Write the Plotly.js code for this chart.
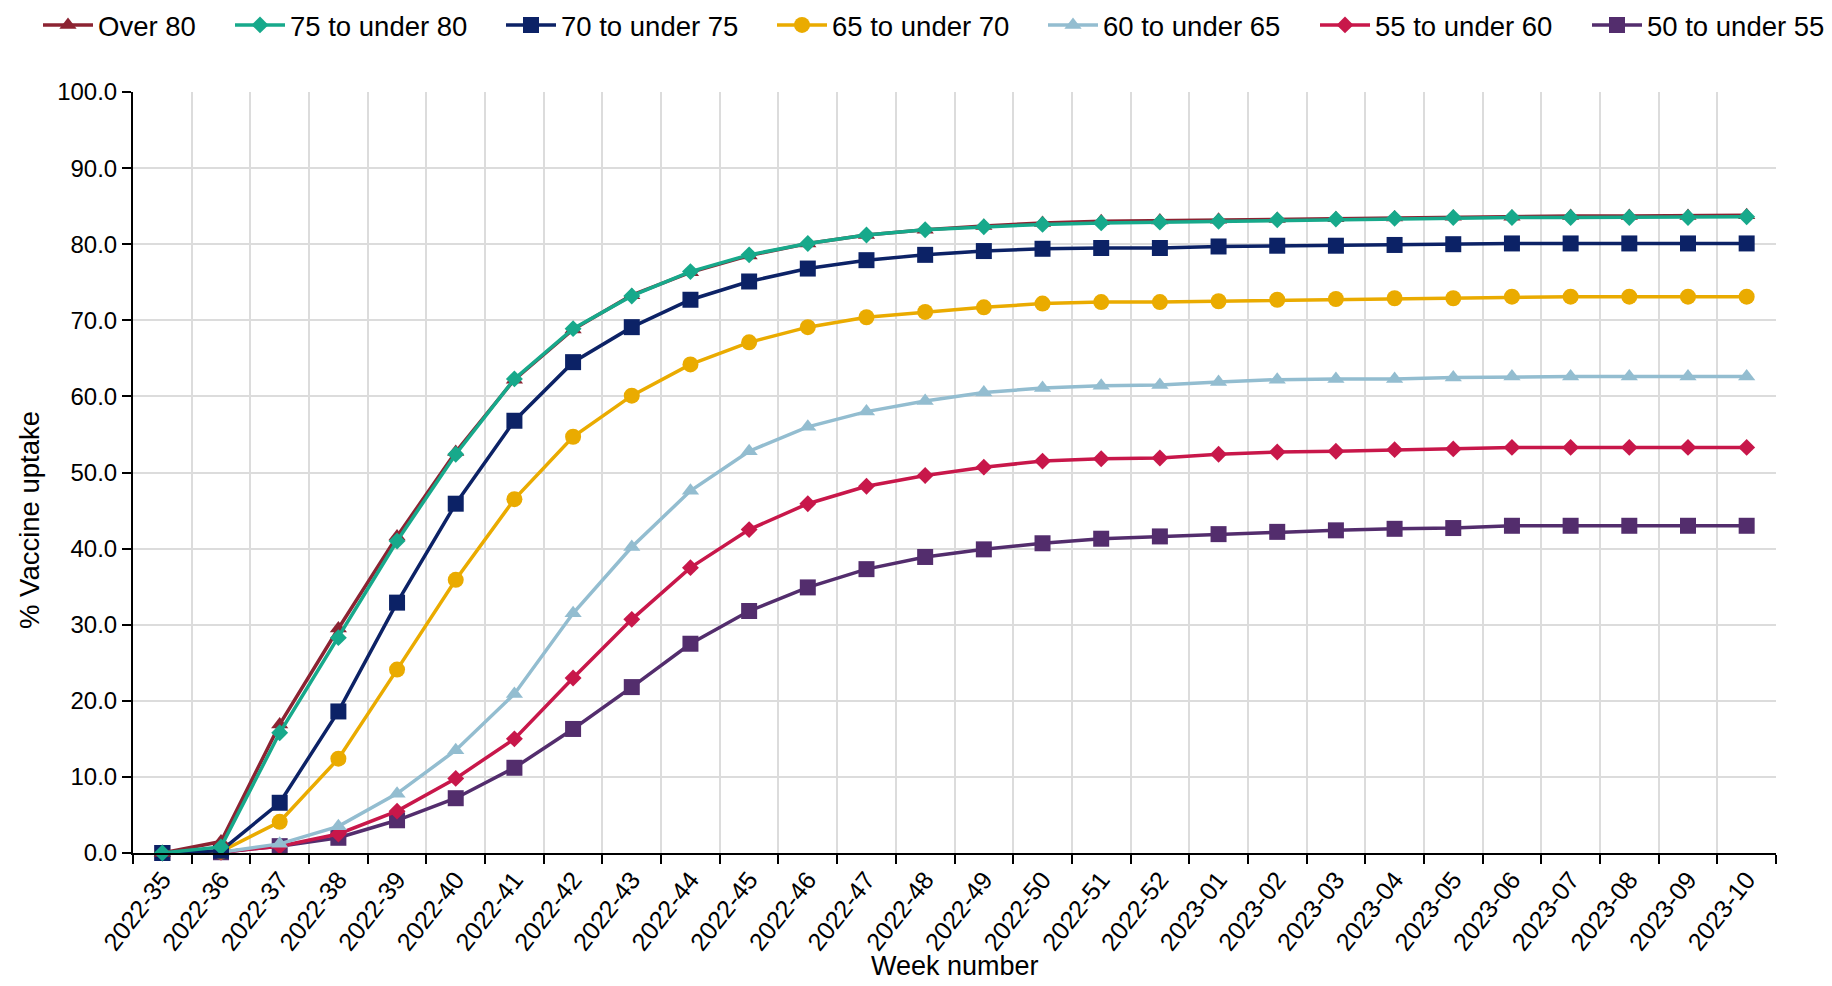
<!DOCTYPE html>
<html>
<head>
<meta charset="utf-8">
<script src="https://cdn.plot.ly/plotly-3.0.1.min.js"></script>
<style>
  html, body { margin: 0; padding: 0; background: #ffffff; }
  #chart { width: 1832px; height: 986px; }
</style>
</head>
<body>
<div id="chart"></div>
<script>
const weeks = ["2022-35","2022-36","2022-37","2022-38","2022-39","2022-40","2022-41","2022-42","2022-43","2022-44","2022-45","2022-46","2022-47","2022-48","2022-49","2022-50","2022-51","2022-52","2023-01","2023-02","2023-03","2023-04","2023-05","2023-06","2023-07","2023-08","2023-09","2023-10"];

const over80    = [0, 1.5, 16.9, 29.5, 41.6, 52.7, 62.2, 68.8, 73.3, 76.3, 78.5, 80.1, 81.2, 81.9, 82.4, 82.8, 83.0, 83.1, 83.2, 83.3, 83.4, 83.5, 83.6, 83.6, 83.7, 83.7, 83.7, 83.8];
const age75to80 = [0, 0.8, 15.8, 28.3, 41.0, 52.4, 62.3, 68.9, 73.2, 76.4, 78.6, 80.1, 81.2, 81.9, 82.3, 82.6, 82.8, 82.9, 83.0, 83.2, 83.3, 83.4, 83.5, 83.5, 83.5, 83.5, 83.5, 83.6];
const age70to75 = [0, 0.3, 6.6, 18.6, 32.9, 45.9, 56.8, 64.5, 69.1, 72.7, 75.1, 76.8, 77.9, 78.6, 79.1, 79.4, 79.5, 79.5, 79.7, 79.8, 79.8, 79.9, 80.0, 80.1, 80.1, 80.1, 80.1, 80.1];
const age65to70 = [0, 0.2, 4.1, 12.4, 24.1, 35.9, 46.5, 54.7, 60.1, 64.2, 67.1, 69.1, 70.4, 71.1, 71.7, 72.2, 72.4, 72.4, 72.5, 72.7, 72.8, 72.9, 72.9, 73.1, 73.1, 73.1, 73.1, 73.1];
const age60to65 = [0, 0.1, 1.2, 3.5, 7.8, 13.5, 20.9, 31.5, 40.2, 47.6, 52.8, 56.0, 58.0, 59.4, 60.5, 61.1, 61.4, 61.5, 61.9, 62.2, 62.3, 62.3, 62.5, 62.6, 62.6, 62.6, 62.6, 62.6];
const age55to60 = [0, 0.1, 0.9, 2.5, 5.5, 9.8, 15.0, 23.0, 30.7, 37.5, 42.5, 45.9, 48.2, 49.6, 50.7, 51.5, 51.8, 51.9, 52.4, 52.7, 52.8, 53.0, 53.1, 53.3, 53.3, 53.3, 53.3, 53.3];
const age50to55 = [0, 0.1, 0.9, 2.0, 4.3, 7.2, 11.2, 16.3, 21.8, 27.5, 31.8, 34.9, 37.3, 38.9, 39.9, 40.7, 41.3, 41.6, 41.9, 42.2, 42.4, 42.6, 42.7, 43.0, 43.0, 43.0, 43.0, 43.0];

const seriesNames = ["Over 80", "75 to under 80", "70 to under 75", "65 to under 70", "60 to under 65", "55 to under 60", "50 to under 55"];
const seriesValues = [over80, age75to80, age70to75, age65to70, age60to65, age55to60, age50to55];
const colors = ["#8c2332", "#17a98b", "#0c2266", "#eaab00", "#93bdd0", "#c8174a", "#532d6d"];
const symbols = ["triangle-up", "diamond", "square", "circle", "triangle-up", "diamond", "square"];
const sizes = [15, 13, 16, 16, 15, 13, 16];

const FONT = "Liberation Sans, Arial, sans-serif";
const legendNames = ["legend", "legend2", "legend3", "legend4", "legend5", "legend6", "legend7"];
// left edge (px) of each legend entry
const legendLeft = [38, 230, 501, 772, 1043, 1315, 1587];

const traces = seriesNames.map((name, i) => ({
  type: "scatter",
  mode: "lines+markers",
  name: name,
  legend: legendNames[i],
  x: weeks,
  y: seriesValues[i],
  line: { color: colors[i], width: 3.5 },
  marker: { color: colors[i], symbol: symbols[i], size: sizes[i], line: { width: 0 } },
  cliponaxis: false
}));

// drawing order: younger groups first, teal over dark red as in reference
const ordered = [traces[6], traces[5], traces[4], traces[3], traces[2], traces[0], traces[1]];

const layout = {
  width: 1832,
  height: 986,
  paper_bgcolor: "#ffffff",
  plot_bgcolor: "#ffffff",
  margin: { l: 133, r: 56, t: 92, b: 133 },
  font: { family: FONT, color: "#000000" },
  showlegend: true,
  xaxis: {
    type: "category",
    categoryorder: "array",
    categoryarray: weeks,
    tickson: "boundaries",
    ticks: "outside",
    ticklen: 9,
    tickwidth: 2,
    tickcolor: "#000000",
    tickangle: -52,
    tickfont: { size: 25, family: FONT, color: "#000000" },
    showgrid: true,
    gridcolor: "#dcdcdc",
    gridwidth: 2,
    showline: true,
    linecolor: "#000000",
    linewidth: 2,
    zeroline: false,
    range: [-0.5, 27.5],
    automargin: false
  },
  yaxis: {
    range: [0, 100],
    tick0: 0,
    dtick: 10,
    tickformat: ".1f",
    ticks: "outside",
    ticklen: 9,
    tickwidth: 2,
    tickcolor: "#000000",
    tickfont: { size: 24, family: FONT, color: "#000000" },
    showgrid: true,
    gridcolor: "#dcdcdc",
    gridwidth: 2,
    showline: true,
    linecolor: "#000000",
    linewidth: 2,
    zeroline: false,
    automargin: false
  },
  annotations: [
    {
      text: "Week number", xref: "paper", yref: "paper",
      x: 0.5, y: -(966 - 853) / 761, xanchor: "center", yanchor: "middle",
      showarrow: false, font: { size: 27, family: FONT, color: "#000000" }
    },
    {
      text: "% Vaccine uptake", xref: "paper", yref: "paper",
      x: -(133 - 29) / 1643, y: (853 - 520) / 761, xanchor: "center", yanchor: "middle",
      textangle: -90,
      showarrow: false, font: { size: 27.5, family: FONT, color: "#000000" }
    }
  ]
};

legendNames.forEach((ln, i) => {
  layout[ln] = {
    orientation: "h",
    xref: "container",
    yref: "container",
    x: legendLeft[i] / 1832,
    xanchor: "left",
    y: 1 - 25 / 986,
    yanchor: "middle",
    itemwidth: 50,
    font: { size: 27.5, family: FONT, color: "#000000" },
    bgcolor: "rgba(0,0,0,0)",
    borderwidth: 0
  };
});

Plotly.newPlot("chart", ordered, layout, { displayModeBar: false, staticPlot: true });
</script>
</body>
</html>
